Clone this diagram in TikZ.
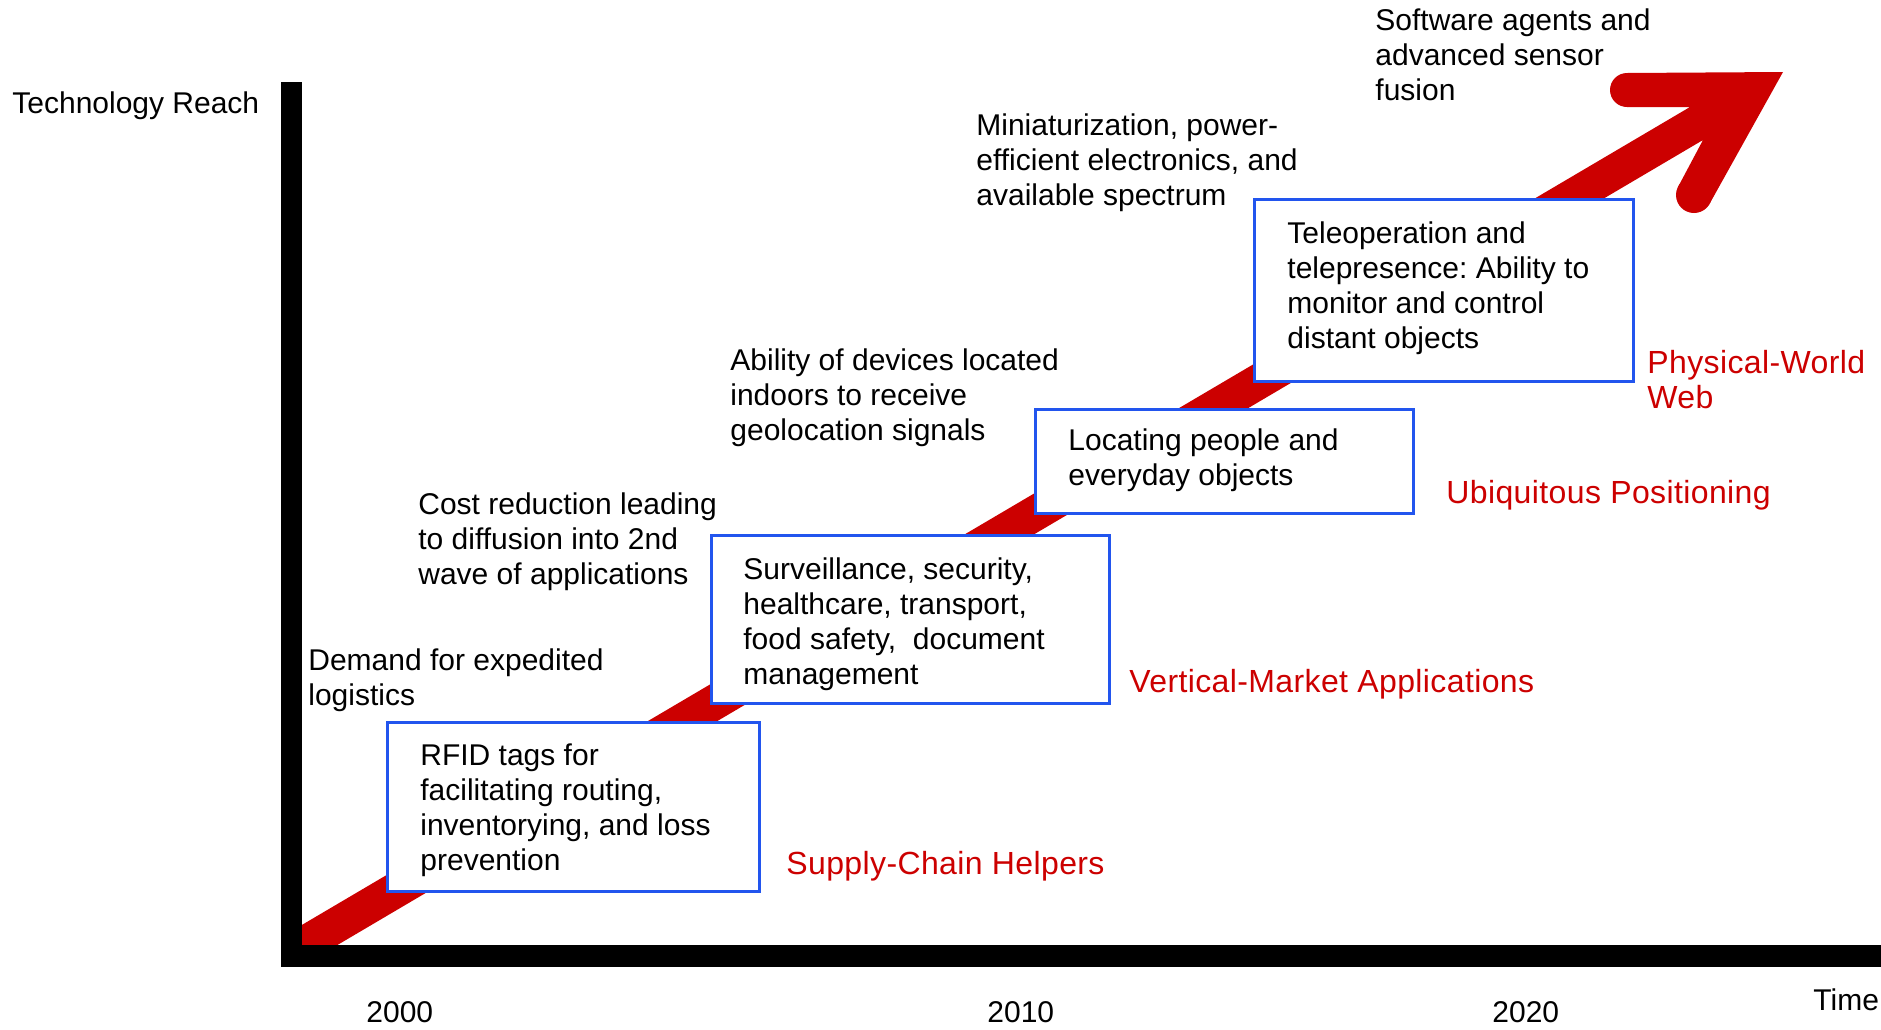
\documentclass[tikz,border=0pt]{standalone}
\usepackage{fontspec}
\setmainfont{Liberation Sans}
\newfontfamily\redfont[LetterSpace=1.2]{Liberation Sans}
\frenchspacing
\definecolor{bandred}{RGB}{204,0,0}
\definecolor{boxblue}{RGB}{34,85,238}
\tikzset{
  lbl/.style={anchor=base west, inner sep=0pt, align=left, font=\fontsize{15}{17.5}\selectfont},
  redlbl/.style={anchor=base west, inner sep=0pt, align=left, text=bandred, font=\redfont\fontsize{16}{17.5}\selectfont},
  bx/.style={draw=boxblue, line width=1.25pt, fill=white, inner sep=0pt, anchor=north west},
}
\begin{document}
\begin{tikzpicture}[x=0.5pt,y=-0.5pt]
\useasboundingbox (0,0) rectangle (1881,1029);
% red band with arrowhead
\begin{scope}
\clip (292,0) rectangle (1881,955);
\fill[bandred] (295,929) -- (1690,107) -- (1627,107) -- (1627,73) -- (1783,72)
  -- (1710,203) -- (1678,187) -- (1703,140) -- (295,970) -- cycle;
\fill[bandred] (1627,90) circle[radius=17];
\fill[bandred] (1694,195) circle[radius=18];
\end{scope}
% boxes
\node[bx, minimum width=186pt, minimum height=84.5pt] (b1) at (386,721) {};
\node[bx, minimum width=199pt, minimum height=84pt] (b2) at (710,534) {};
\node[bx, minimum width=189pt, minimum height=52pt] (b3) at (1034,408) {};
\node[bx, minimum width=189.5pt, minimum height=91pt] (b4) at (1253,198) {};
% axes
\fill[black] (281,82) rectangle (302,967);
\fill[black] (281,945) rectangle (1881,967);
% box texts (anchor at baseline of last line)
\node[lbl] (tb1) at (420,870) {RFID tags for\\facilitating routing,\\inventorying, and loss\\prevention};
\node[lbl] (tb2) at (743,684) {Surveillance, security,\\healthcare, transport,\\food safety,\ \ document\\management};
\node[lbl] (tb3) at (1068,485) {Locating people and\\everyday objects};
\node[lbl] (tb4) at (1287,348) {Teleoperation and\\telepresence: Ability to\\monitor and control\\distant objects};
% driver texts
\node[lbl] (tr) at (12,113) {Technology Reach};
\node[lbl] (t1) at (308,705) {Demand for expedited\\logistics};
\node[lbl] (t2) at (418,584) {Cost reduction leading\\to diffusion into 2nd\\wave of applications};
\node[lbl] (t3) at (730,440) {Ability of devices located\\indoors to receive\\geolocation signals};
\node[lbl] (t4) at (976,205) {Miniaturization, power-\\efficient electronics, and\\available spectrum};
\node[lbl] (t5) at (1375,100) {Software agents and\\advanced sensor\\fusion};
% red stage labels
\node[redlbl] (r1) at (786,874) {Supply-Chain Helpers};
\node[redlbl] (r2) at (1129,692) {Vertical-Market Applications};
\node[redlbl] (r3) at (1446,503) {Ubiquitous Positioning};
\node[redlbl] (r4) at (1647,408) {Physical-World\\Web};
% axis labels
\node[lbl] (y1) at (366,1022) {2000};
\node[lbl] (y2) at (987,1022) {2010};
\node[lbl] (y3) at (1492,1022) {2020};
\node[lbl] (tm) at (1813,1010) {Time};
\end{tikzpicture}
\end{document}
